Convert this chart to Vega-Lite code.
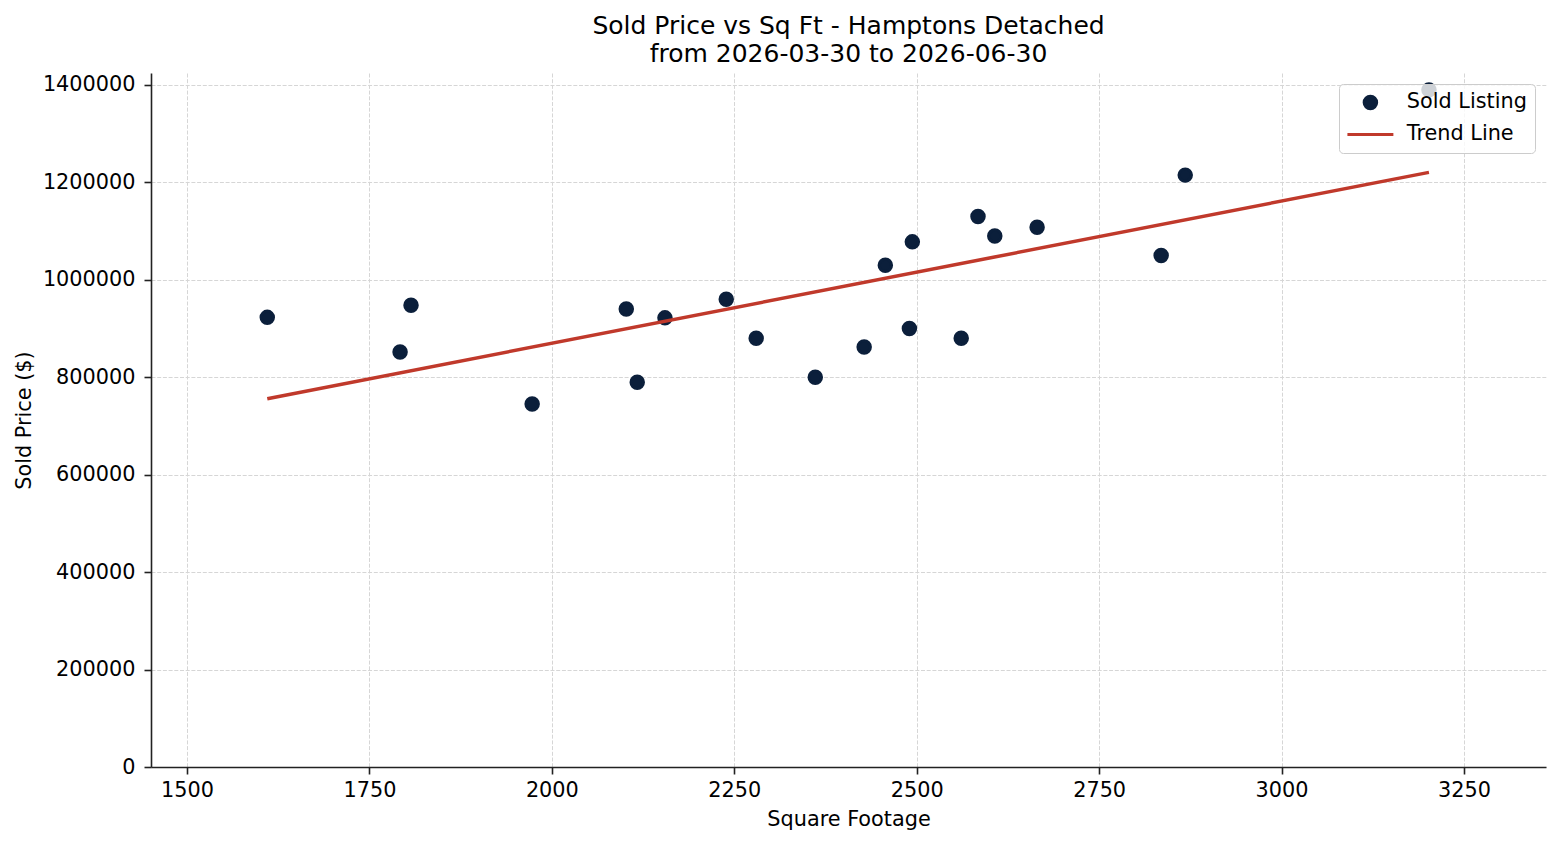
{
  "$schema": "https://vega.github.io/schema/vega-lite/v6.json",
  "width": 1395,
  "height": 694,
  "autosize": {"type": "none"},
  "padding": {"left": 151, "top": 73, "right": 14, "bottom": 78},
  "background": "white",
  "title": {
    "text": ["Sold Price vs Sq Ft - Hamptons Detached", "from 2026-03-30 to 2026-06-30"],
    "font": "DejaVu Sans",
    "fontSize": 25,
    "fontWeight": "normal",
    "color": "black",
    "anchor": "middle",
    "frame": "group",
    "baseline": "alphabetic",
    "lineHeight": 28,
    "offset": -14
  },
  "data": {
    "values": [
      {"sqft": 1610, "price": 923000, "series": "Sold Listing"},
      {"sqft": 1792, "price": 852000, "series": "Sold Listing"},
      {"sqft": 1807, "price": 948000, "series": "Sold Listing"},
      {"sqft": 1973, "price": 745000, "series": "Sold Listing"},
      {"sqft": 2102, "price": 940000, "series": "Sold Listing"},
      {"sqft": 2117, "price": 790000, "series": "Sold Listing"},
      {"sqft": 2155, "price": 922000, "series": "Sold Listing"},
      {"sqft": 2239, "price": 960000, "series": "Sold Listing"},
      {"sqft": 2280, "price": 880000, "series": "Sold Listing"},
      {"sqft": 2361, "price": 800000, "series": "Sold Listing"},
      {"sqft": 2428, "price": 862000, "series": "Sold Listing"},
      {"sqft": 2457, "price": 1030000, "series": "Sold Listing"},
      {"sqft": 2490, "price": 900000, "series": "Sold Listing"},
      {"sqft": 2494, "price": 1078000, "series": "Sold Listing"},
      {"sqft": 2561, "price": 880000, "series": "Sold Listing"},
      {"sqft": 2584, "price": 1130000, "series": "Sold Listing"},
      {"sqft": 2607, "price": 1090000, "series": "Sold Listing"},
      {"sqft": 2665, "price": 1108000, "series": "Sold Listing"},
      {"sqft": 2835, "price": 1050000, "series": "Sold Listing"},
      {"sqft": 2868, "price": 1215000, "series": "Sold Listing"},
      {"sqft": 3202, "price": 1390000, "series": "Sold Listing"}
    ]
  },
  "layer": [
    {
      "mark": {"type": "point", "filled": false, "fill": "#0b1f3b", "fillOpacity": 1, "strokeWidth": 3, "size": 156, "opacity": 1},
      "encoding": {
        "x": {
          "field": "sqft",
          "type": "quantitative",
          "scale": {"domain": [1450.66, 3362.4], "nice": false, "zero": false},
          "axis": {"values": [1500, 1750, 2000, 2250, 2500, 2750, 3000, 3250], "format": "d", "labelPadding": 6, "titlePadding": 10},
          "title": "Square Footage"
        },
        "y": {
          "field": "price",
          "type": "quantitative",
          "scale": {"domain": [0, 1424633], "nice": false, "zero": true},
          "axis": {"values": [0, 200000, 400000, 600000, 800000, 1000000, 1200000, 1400000], "format": "d", "labelPadding": 9, "titlePadding": 8},
          "title": "Sold Price ($)"
        },
        "color": {
          "field": "series",
          "type": "nominal",
          "scale": {"domain": ["Sold Listing", "Trend Line"], "range": ["#0b1f3b", "#c0392b"]},
          "legend": {"title": null}
        },
        "shape": {
          "field": "series",
          "type": "nominal",
          "scale": {"domain": ["Sold Listing", "Trend Line"], "range": ["circle", "M-3.68,0H3.68"]},
          "legend": {"title": null}
        }
      }
    },
    {
      "transform": [{"regression": "price", "on": "sqft"}],
      "mark": {"type": "line", "color": "#c0392b", "strokeWidth": 3.5},
      "encoding": {
        "x": {"field": "sqft", "type": "quantitative"},
        "y": {"field": "price", "type": "quantitative"}
      }
    }
  ],
  "config": {
    "view": {"stroke": null},
    "font": "DejaVu Sans",
    "axis": {
      "labelFont": "DejaVu Sans",
      "labelFontSize": 20.8,
      "labelColor": "black",
      "titleFont": "DejaVu Sans",
      "titleFontSize": 20.8,
      "titleFontWeight": "normal",
      "titleColor": "black",
      "domainColor": "#222222",
      "domainWidth": 1.6,
      "tickColor": "#222222",
      "tickWidth": 1.6,
      "tickSize": 7,
      "gridColor": "#d6d6d6",
      "gridDash": [4, 1.7],
      "gridWidth": 1
    },
    "legend": {
      "orient": "top-right",
      "offset": 11,
      "padding": 8,
      "symbolOffset": 13,
      "labelOffset": 26,
      "rowPadding": 8,
      "symbolSize": 156,
      "symbolStrokeWidth": 3,
      "labelFont": "DejaVu Sans",
      "labelFontSize": 20.8,
      "labelColor": "black",
      "labelLimit": 400,
      "fillColor": "rgba(255,255,255,0.8)",
      "strokeColor": "#cccccc",
      "cornerRadius": 4
    }
  }
}
